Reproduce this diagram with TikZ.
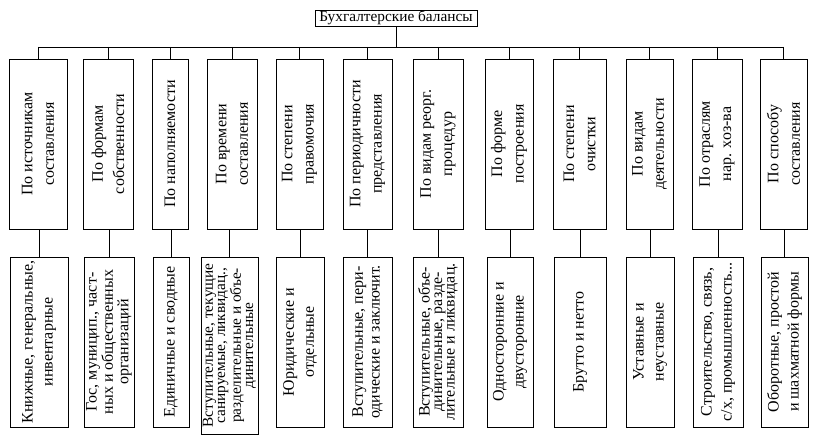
\documentclass[tikz,border=0pt]{standalone}
\usepackage{fontspec}
\setmainfont{Liberation Serif}
\usepackage{tikz}
\usetikzlibrary{positioning,calc}

\begin{document}
\begin{tikzpicture}[
    x=0.75pt,y=0.75pt,
    line width=0.6pt,
    title/.style={rectangle,draw=black,inner sep=0pt,minimum width=121.5pt,minimum height=12pt,font=\fontsize{11.5}{14}\selectfont},
    group/.style={rectangle,draw=black,rotate=90,inner sep=0pt,minimum width=127.5pt,align=center,font=\fontsize{12}{16}\selectfont},
    kind/.style={rectangle,draw=black,rotate=90,inner sep=0pt,minimum width=127.5pt,align=center,font=\fontsize{12}{15}\selectfont},
    tight/.style={font=\fontsize{12}{9.4}\selectfont},
    middle/.style={font=\fontsize{12}{12.5}\selectfont},
    conn/.style={-}
]
\useasboundingbox (0,0) rectangle (816,-438);

% Top
\node[title] (root) at (396,-18) {Бухгалтерские балансы};
\coordinate (bus) at (0,-47);

% Groups
\node[group,minimum height=43.5pt] (t1) at (38,-144) {По источникам\\составления};
\node[group,minimum height=37.5pt] (t2) at (108,-144) {По формам\\собственности};
\node[group,minimum height=27pt] (t3) at (170,-144) {По наполняемости};
\node[group,minimum height=37.5pt] (t4) at (232,-144) {По времени\\составления};
\node[group,minimum height=35.25pt] (t5) at (299.5,-144) {По степени\\правомочия};
\node[group,minimum height=36.75pt] (t6) at (367.5,-144) {По периодичности\\представления};
\node[group,minimum height=37.5pt] (t7) at (438,-144) {По видам реорг.\\процедур};
\node[group,minimum height=36pt] (t8) at (509,-144) {По форме\\построения};
\node[group,minimum height=39.75pt] (t9) at (579.5,-144) {По степени\\очистки};
\node[group,minimum height=35.25pt] (t10) at (649.5,-144) {По видам\\деятельности};
\node[group,minimum height=37.5pt] (t11) at (717,-144) {По отраслям\\нар. хоз-ва};
\node[group,minimum height=35.25pt] (t12) at (783.5,-144) {По способу\\составления};

% Kinds
\node[kind,minimum height=43.5pt] (b1) at (39,-342) {Книжные, генеральные,\\инвентарные};
\node[kind,tight,minimum height=37.5pt] (b2) at (109,-342) {Гос, муницип., част-\\ных и общественных\\организаций};
\node[kind,minimum height=27pt] (b3) at (171,-342) {Единичные и сводные};
\node[kind,font=\fontsize{11.5}{9.2}\selectfont,minimum height=42.75pt,minimum width=132.75pt] (b4) at (229.5,-345.5) {Вступительные, текущие\\санируемые, ликвидац.,\\разделительные и объе-\\динительные};
\node[kind,minimum height=36pt] (b5) at (300,-342) {Юридические и\\отдельные};
\node[kind,middle,minimum height=36.75pt] (b6) at (367.5,-342) {Вступительные, пери-\\одические и заключит.};
\node[kind,tight,minimum height=37.5pt] (b7) at (438,-342) {Вступительные, объе-\\динительные, разде-\\лительные и ликвидац.};
\node[kind,minimum height=34.5pt] (b8) at (510,-342) {Односторонние и\\двусторонние};
\node[kind,minimum height=39pt] (b9) at (580,-342) {Брутто и нетто};
\node[kind,minimum height=36pt] (b10) at (650,-342) {Уставные и\\неуставные};
\node[kind,minimum height=37.5pt] (b11) at (718,-342) {Строительство, связь,\\с/х, промышленность...};
\node[kind,minimum height=35.25pt] (b12) at (784.5,-342) {Оборотные, простой\\и шахматной формы};

% Lines
\draw[conn] (root) -- (root |- bus);
\draw[conn] (bus -| t1.east) -- (bus -| t12.east);
\draw[conn] (bus -| t1.east) -- (t1.east) (t1.west -| b1.east) -- (b1.east);
\draw[conn] (bus -| t2.east) -- (t2.east) (t2.west -| b2.east) -- (b2.east);
\draw[conn] (bus -| t3.east) -- (t3.east) (t3.west -| b3.east) -- (b3.east);
\draw[conn] (bus -| t4.east) -- (t4.east) (t4.west -| b4.east) -- (b4.east);
\draw[conn] (bus -| t5.east) -- (t5.east) (t5.west -| b5.east) -- (b5.east);
\draw[conn] (bus -| t6.east) -- (t6.east) (t6.west -| b6.east) -- (b6.east);
\draw[conn] (bus -| t7.east) -- (t7.east) (t7.west -| b7.east) -- (b7.east);
\draw[conn] (bus -| t8.east) -- (t8.east) (t8.west -| b8.east) -- (b8.east);
\draw[conn] (bus -| t9.east) -- (t9.east) (t9.west -| b9.east) -- (b9.east);
\draw[conn] (bus -| t10.east) -- (t10.east) (t10.west -| b10.east) -- (b10.east);
\draw[conn] (bus -| t11.east) -- (t11.east) (t11.west -| b11.east) -- (b11.east);
\draw[conn] (bus -| t12.east) -- (t12.east) (t12.west -| b12.east) -- (b12.east);
\end{tikzpicture}
\end{document}
